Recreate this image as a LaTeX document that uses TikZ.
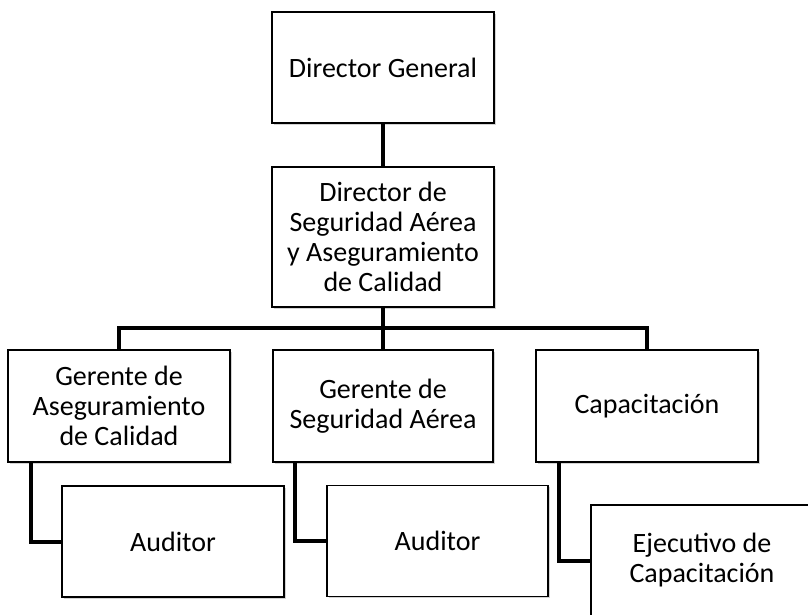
\documentclass[tikz,border=0pt]{standalone}
\usepackage{fontspec}
\setmainfont{Carlito}
\usetikzlibrary{shadows}
\begin{document}
\begin{tikzpicture}[x=1pt,y=-1pt,
  box/.style={draw=black, line width=1.2pt, fill=white, align=center,
    inner sep=2pt, minimum width=222pt, minimum height=111pt,
    font=\fontsize{28}{30}\selectfont,
    drop shadow={shadow xshift=1.5pt, shadow yshift=-1.5pt, opacity=0.35}},
  conn/.style={line width=4pt}]
\useasboundingbox (0,0) rectangle (808,614);
\node[box] (DG) at (383,67.5) {Director General};
\node[box, minimum height=140pt] (DSA) at (383,237) {Director de\\Seguridad Aérea\\y Aseguramiento\\de Calidad};
\node[box, minimum height=112pt] (GA) at (119,406) {Gerente de\\Aseguramiento\\de Calidad};
\node[box, minimum width=220pt, minimum height=112pt] (GS) at (383,406) {Gerente de\\Seguridad Aérea};
\node[box, minimum height=112pt] (CAP) at (647,406) {Capacitación};
\node[box] (AUD1) at (173,541.5) {Auditor};
\node[box, minimum width=221pt] (AUD2) at (437.5,541) {Auditor};
\node[box] (EJ) at (702,560.5) {Ejecutivo de\\Capacitación};
\coordinate (bar) at (383,328);
\draw[conn] (DG.south) -- (DSA.north);
\draw[conn] (DSA.south) -- (bar);
\draw[conn] (GA.north) |- (bar) -| (CAP.north);
\draw[conn] (bar) -- (GS.north);
\draw[conn] ([xshift=24pt]GA.south west) |- (AUD1.west);
\draw[conn] ([xshift=23pt]GS.south west) |- (AUD2.west);
\draw[conn] ([xshift=24pt]CAP.south west) |- (EJ.west);
\end{tikzpicture}
\end{document}
